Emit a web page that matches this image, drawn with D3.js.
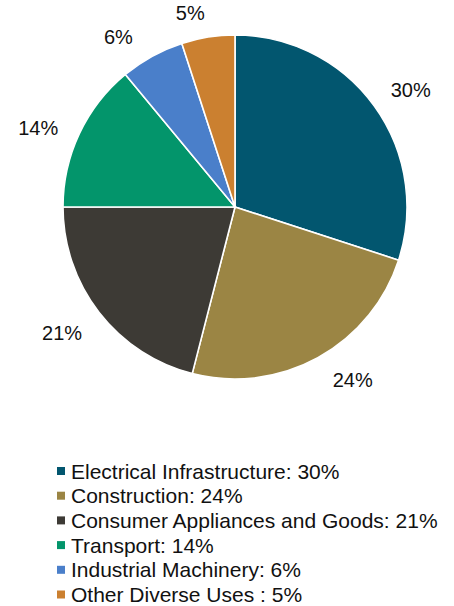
<!DOCTYPE html>
<html>
<head>
<meta charset="utf-8">
<script src="https://cdn.jsdelivr.net/npm/d3@7"></script>
<style>
  html, body { margin: 0; padding: 0; background: #fff; }
  svg { display: block; font-family: "Liberation Sans", Arial, sans-serif; }
</style>
</head>
<body>
<svg id="chart" width="454" height="606"></svg>
<script>
// Share of end use, percent
const categories = [
  "Electrical Infrastructure",
  "Construction",
  "Consumer Appliances and Goods",
  "Transport",
  "Industrial Machinery",
  "Other Diverse Uses "
];
const shares = [30, 24, 21, 14, 6, 5];
const colors = ["#02566f", "#9b8544", "#3d3a35", "#03956b", "#4a7fca", "#cb8030"];

// Label placement tweaks (degrees around the pie, extra radius in px)
const labelAngleNudge = [2.4, -5.5, 1.7, -3.4, -5.7, -4];
const labelRadiusNudge = [1, -1, 4, 2, -4, -11];

const svg = d3.select("#chart");
const cx = 235, cy = 207, r = 172, labelR = 210;

const pie = d3.pie().sort(null).value(d => d);
const arcs = pie(shares);
const arc = d3.arc().innerRadius(0).outerRadius(r);

const g = svg.append("g").attr("transform", `translate(${cx},${cy})`);

g.selectAll("path.slice")
  .data(arcs)
  .join("path")
  .attr("class", "slice")
  .attr("d", arc)
  .attr("fill", (d, i) => colors[i])
  .attr("stroke", "#fff")
  .attr("stroke-width", 1.6)
  .attr("stroke-linejoin", "round");

function labelPos(d, i) {
  const a = (d.startAngle + d.endAngle) / 2 + labelAngleNudge[i] * Math.PI / 180;
  const rr = labelR + labelRadiusNudge[i];
  return [Math.sin(a) * rr, -Math.cos(a) * rr];
}

g.selectAll("text.pct")
  .data(arcs)
  .join("text")
  .attr("class", "pct")
  .attr("x", (d, i) => labelPos(d, i)[0])
  .attr("y", (d, i) => labelPos(d, i)[1])
  .attr("text-anchor", "middle")
  .attr("dominant-baseline", "central")
  .attr("font-size", 20)
  .attr("fill", "#111")
  .text(d => d.data + "%");

// Legend
const legend = svg.append("g").attr("transform", "translate(57,471)");
const rowH = 24.7;
const rows = legend.selectAll("g.row")
  .data(categories)
  .join("g")
  .attr("class", "row")
  .attr("transform", (d, i) => `translate(0,${i * rowH})`);

rows.append("rect")
  .attr("x", 0)
  .attr("y", -4)
  .attr("width", 8)
  .attr("height", 8)
  .attr("fill", (d, i) => colors[i]);

rows.append("text")
  .attr("x", 14)
  .attr("y", 0)
  .attr("dominant-baseline", "central")
  .attr("font-size", 21)
  .attr("fill", "#111")
  .text((d, i) => `${d}: ${shares[i]}%`);
</script>
</body>
</html>
